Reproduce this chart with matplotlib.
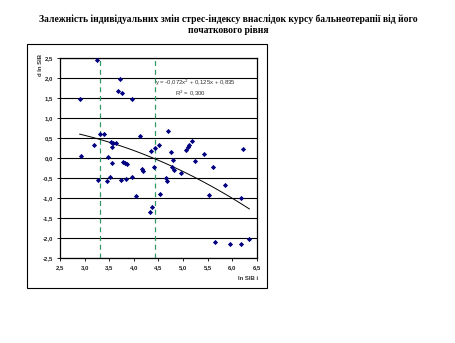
import numpy as np
import matplotlib
matplotlib.use("Agg")
import matplotlib.pyplot as plt
import matplotlib.patches as mPatch
from matplotlib.ticker import FuncFormatter, MultipleLocator

# Data
ln_sib = [3.26, 3.73, 3.67, 3.76, 2.90, 3.97, 3.31, 3.39, 4.13, 3.20,
          3.53, 3.58, 3.64, 3.56, 2.93, 3.48, 4.36, 4.44, 4.52, 4.69,
          4.76, 5.18, 5.12, 5.10, 5.07, 5.43, 6.23, 3.56, 3.79, 3.82,
          3.87, 4.17, 4.19, 4.42, 3.27, 3.46, 3.52, 3.75, 3.84, 3.96,
          4.05, 4.38, 4.34, 4.53, 4.80, 5.24, 4.78, 4.81, 4.96, 5.62,
          4.65, 4.67, 5.54, 5.86, 6.19, 5.66, 5.96, 6.19, 6.35]
d_ln_sib = [2.45, 1.97, 1.67, 1.63, 1.47, 1.48, 0.60, 0.59, 0.55, 0.32,
            0.40, 0.38, 0.37, 0.27, 0.05, 0.03, 0.18, 0.24, 0.33, 0.68,
            0.14, 0.41, 0.31, 0.28, 0.19, 0.09, 0.23, -0.12, -0.10, -0.13,
            -0.16, -0.27, -0.33, -0.22, -0.55, -0.57, -0.48, -0.55, -0.52, -0.47,
            -0.96, -1.22, -1.34, -0.90, -0.05, -0.07, -0.23, -0.30, -0.38, -0.23,
            -0.50, -0.58, -0.93, -0.68, -1.00, -2.10, -2.14, -2.14, -2.02]

# trend line coefficients (from the chart label)
trend_coef = [-0.072, 0.125, 0.835]
trend_range = [2.9, 6.35]
vlines_x = [3.32, 4.43]

title = ("Залежність індивідуальних змін стрес-індексу внаслідок курсу бальнеотерапії від його\n"
         "початкового рівня")

# colours
POINT_COLOUR = "#000080"
VLINE_COLOUR = "#339966"

fig = plt.figure(figsize=(4.56, 3.43), dpi=100)
fig.patch.set_facecolor("white")

# outer chart box
W, H = 456.0, 343.0
box = mPatch.Rectangle((27 / W, 1 - 288 / H), (267 - 27) / W, (288 - 44) / H,
                       transform=fig.transFigure, fill=False, edgecolor="black", linewidth=0.8)
fig.patches.append(box)

fig.text(228 / W, 1 - 25 / H, title, ha="center", va="center", fontsize=6.9,
         fontweight="bold", family="Liberation Serif", linespacing=1.15)

ax = fig.add_axes([60 / W, 1 - 258 / H, (256.7 - 60) / W, (258 - 57.7) / H])
ax.set_xlim(2.5, 6.5)
ax.set_ylim(-2.5, 2.5)
ax.yaxis.set_major_locator(MultipleLocator(0.5))
ax.xaxis.set_major_locator(MultipleLocator(0.5))
ax.yaxis.grid(True, color="black", linewidth=0.8)
ax.set_axisbelow(True)
for s in ax.spines.values():
    s.set_linewidth(0.9)

comma = FuncFormatter(lambda v, p: ("%.1f" % v).replace(".", ","))
ax.xaxis.set_major_formatter(comma)
ax.yaxis.set_major_formatter(comma)
ax.tick_params(labelsize=4.3, length=2, width=0.6, pad=3, colors="black", labelcolor="#222222")
for lab in ax.get_xticklabels() + ax.get_yticklabels():
    lab.set_fontweight("bold")
    lab.set_family("Liberation Sans")

for xv in vlines_x:
    ax.axvline(xv, color=VLINE_COLOUR, linestyle=(0, (4, 3)), linewidth=0.9)

ax.scatter(ln_sib, d_ln_sib, marker="D", s=7, color=POINT_COLOUR, zorder=3, linewidths=0)

xs = np.linspace(trend_range[0], trend_range[1], 100)
ax.plot(xs, np.polyval(trend_coef, xs), color="black", linewidth=0.7, zorder=2)

ax.text(4.43, 1.86, "y = -0,072x$^2$ + 0,125x + 0,835", fontsize=4.3, family="Liberation Sans",
        va="center", ha="left", color="#333333")
ax.text(5.15, 1.61, "R$^2$ = 0,300", fontsize=4.3, family="Liberation Sans",
        va="center", ha="center", color="#333333")

fig.text(41 / W, 1 - 65 / H, "d ln SIB", rotation=90, fontsize=4.3, fontweight="bold",
         family="Liberation Sans", ha="center", va="center", color="#333333")
fig.text(248 / W, 1 - 279 / H, "ln SIB i", fontsize=4.3, fontweight="bold",
         family="Liberation Sans", ha="center", va="center", color="#333333")

fig.savefig("out.png", dpi=100)
